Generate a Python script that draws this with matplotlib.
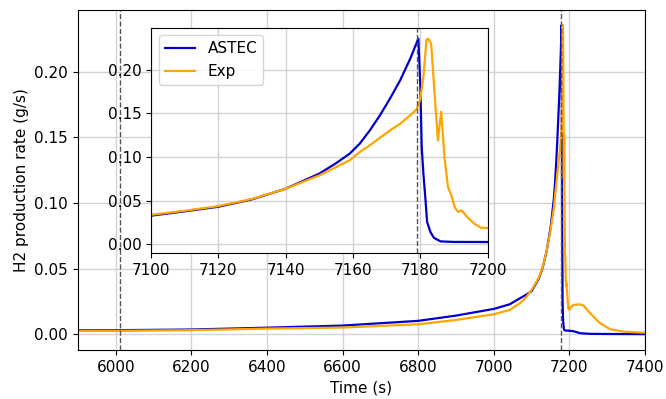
import matplotlib
matplotlib.use("Agg")
import matplotlib.pyplot as plt
import numpy as np

plt.rcParams['font.size'] = 11

# ASTEC simulation
astec_t = [5900, 6000, 6200, 6400, 6600, 6800, 6900, 7000, 7042, 7069, 7085, 7100,
           7110, 7120, 7130, 7140, 7150, 7155, 7159, 7162, 7165, 7168, 7171, 7174, 7177,
           7179.4, 7180.0, 7180.4, 7180.9, 7181.5, 7182, 7183, 7184, 7186, 7190, 7200,
           7211, 7228, 7255, 7300, 7400]
astec_v = [0.0030, 0.0031, 0.0036, 0.0050, 0.0066, 0.0102, 0.0142, 0.0193, 0.0228,
           0.0274, 0.0300, 0.0328, 0.0378, 0.0430, 0.0515, 0.0637, 0.0810, 0.0930,
           0.1038, 0.1153, 0.1305, 0.1477, 0.1670, 0.1878, 0.2126, 0.2355, 0.1800,
           0.1110, 0.0810, 0.0520, 0.0256, 0.0140, 0.0076, 0.0034, 0.0028, 0.0027,
           0.0023, 0.0008, 0.0003, 0.0002, 0.0001]

# Experiment
exp_t = [5900, 6000, 6200, 6400, 6600, 6800, 6900, 7000, 7042, 7069, 7085, 7100,
         7110, 7120, 7130, 7140, 7150, 7155, 7159, 7162, 7165, 7168, 7171, 7174, 7177,
         7179, 7180, 7181, 7181.8, 7182.3, 7183.2, 7184.2, 7185.2, 7186.2, 7187.2,
         7188.2, 7189.2, 7190.2, 7191.2, 7192.2, 7194, 7196, 7198, 7200, 7205, 7211,
         7225, 7237, 7255, 7281, 7308, 7343, 7388, 7400]
exp_v = [0.0025, 0.0026, 0.0031, 0.0043, 0.0051, 0.0076, 0.0109, 0.0152, 0.0185,
         0.0236, 0.0280, 0.0338, 0.0385, 0.0438, 0.0520, 0.0637, 0.0790, 0.0886,
         0.0962, 0.1057, 0.1134, 0.1221, 0.1305, 0.1380, 0.1477, 0.1553, 0.1668,
         0.1954, 0.2340, 0.2355, 0.2298, 0.1740, 0.1190, 0.1520, 0.0980, 0.0656,
         0.0560, 0.0427, 0.0370, 0.0390, 0.0310, 0.0237, 0.0190, 0.0187, 0.0210,
         0.0223, 0.0228, 0.0220, 0.0160, 0.0084, 0.0038, 0.0020, 0.0013, 0.0012]

vlines_main = [6010, 7179]
vline_inset = 7179

blue = '#0000cc'
orange = '#ffa500'
lw = 1.6

fig = plt.figure(figsize=(6.66, 3.99), dpi=100)
ax = fig.add_axes([0.117, 0.1228, 0.8515, 0.8522])
ax.plot(astec_t, astec_v, color=blue, lw=lw, label='ASTEC')
ax.plot(exp_t, exp_v, color=orange, lw=lw, label='Exp')
for v in vlines_main:
    ax.axvline(v, color='#555555', ls='--', lw=1)
ax.set_xlim(5900, 7400)
ax.set_ylim(-0.012, 0.247)
ax.set_xticks(np.arange(6000, 7401, 200))
ax.set_yticks(np.arange(0, 0.201, 0.05))
ax.grid(True, color='#d3d3d3', lw=1)
ax.set_axisbelow(True)
ax.set_xlabel('Time (s)')
ax.set_ylabel('H2 production rate (g/s)')

ins = fig.add_axes([0.2267, 0.365, 0.5056, 0.5656])
ins.plot(astec_t, astec_v, color=blue, lw=lw, label='ASTEC')
ins.plot(exp_t, exp_v, color=orange, lw=lw, label='Exp')
ins.axvline(vline_inset, color='#555555', ls='--', lw=1)
ins.set_xlim(7100, 7200)
ins.set_ylim(-0.0103, 0.248)
ins.set_xticks(np.arange(7100, 7201, 20))
ins.set_yticks(np.arange(0, 0.201, 0.05))
ins.grid(True, color='#d3d3d3', lw=1)
ins.set_axisbelow(True)
ins.legend(loc='upper left')

fig.savefig('out.png', dpi=100)
